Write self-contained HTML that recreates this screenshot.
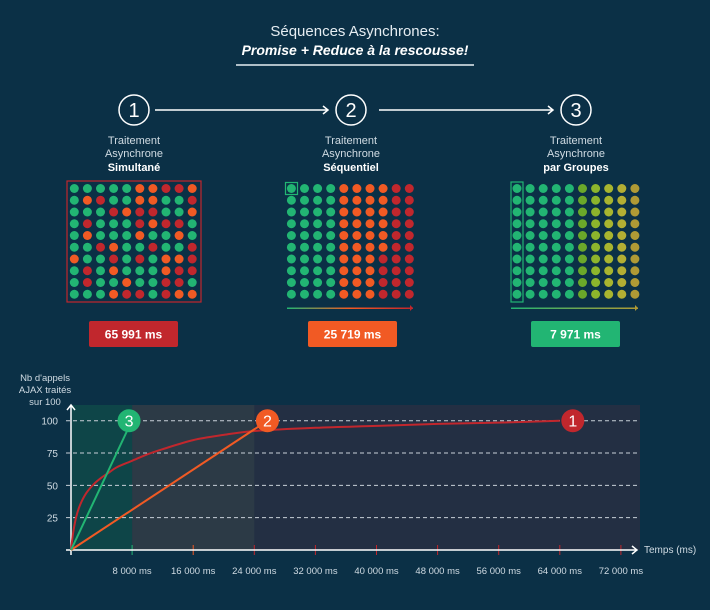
<!DOCTYPE html>
<html><head><meta charset="utf-8"><style>
html,body{margin:0;padding:0;background:#0b3046;}
svg{display:block;font-family:"Liberation Sans",sans-serif;}
</style></head><body>
<svg id="s" width="710" height="610" viewBox="0 0 710 610">
<rect width="710" height="610" fill="#0b3046"/>
<text x="355" y="36" text-anchor="middle" fill="#e6edf2" font-size="15">Séquences Asynchrones:</text>
<text x="355" y="55" text-anchor="middle" fill="#fff" font-size="14" font-weight="bold" font-style="italic">Promise + Reduce à la rescousse!</text>
<line x1="236" y1="65" x2="474" y2="65" stroke="#e6edf2" stroke-width="1.5"/>
<g stroke="#fff" stroke-width="1.5" fill="none">
<circle cx="134" cy="110" r="15"/>
<circle cx="351" cy="110" r="15"/>
<circle cx="576" cy="110" r="15"/>
<path d="M155 110H328M323 106l5 4-5 4"/>
<path d="M379 110H553M548 106l5 4-5 4"/>
</g>
<g fill="#fff" font-size="20" text-anchor="middle">
<text x="134" y="117">1</text>
<text x="351" y="117">2</text>
<text x="576" y="117">3</text>
</g>
<g fill="#d0dbe3" font-size="11" text-anchor="middle">
<text x="134" y="144">Traitement</text><text x="134" y="157">Asynchrone</text><text x="134" y="171" fill="#fff" font-weight="bold">Simultané</text>
<text x="351" y="144">Traitement</text><text x="351" y="157">Asynchrone</text><text x="351" y="171" fill="#fff" font-weight="bold">Séquentiel</text>
<text x="576" y="144">Traitement</text><text x="576" y="157">Asynchrone</text><text x="576" y="171" fill="#fff" font-weight="bold">par Groupes</text>
</g>
<g id="grids"></g>
<rect x="67" y="181" width="134" height="121" fill="none" stroke="#c1272d" stroke-width="1.2"/>
<rect x="285.5" y="182.5" width="12" height="12" fill="none" stroke="#22b573" stroke-width="1.2"/>
<rect x="511" y="182" width="12" height="120" fill="none" stroke="#22b573" stroke-width="1.2"/>
<defs>
<linearGradient id="g2" x1="0" x2="1"><stop offset="0" stop-color="#22b573"/><stop offset="0.5" stop-color="#f15a24"/><stop offset="1" stop-color="#c1272d"/></linearGradient>
<linearGradient id="g3" x1="0" x2="1"><stop offset="0" stop-color="#22b573"/><stop offset="1" stop-color="#b09a35"/></linearGradient>
</defs>
<rect x="287" y="307.5" width="126" height="1.5" fill="url(#g2)"/>
<path d="M410 305l3 3-3 3z" fill="#c1272d"/>
<rect x="511" y="307.5" width="127" height="1.5" fill="url(#g3)"/>
<path d="M635 305l3 3-3 3z" fill="#b09a35"/>
<g font-size="12" font-weight="bold" fill="#fff" text-anchor="middle">
<rect x="89" y="321" width="89" height="26" rx="2" fill="#c1272d"/>
<text x="133.5" y="338.5">65 991 ms</text>
<rect x="308" y="321" width="89" height="26" rx="2" fill="#f15a24"/>
<text x="352.5" y="338.5">25 719 ms</text>
<rect x="531" y="321" width="89" height="26" rx="2" fill="#22b573"/>
<text x="575.5" y="338.5">7 971 ms</text>
</g>
<g id="chart"></g>
</svg>
<script>
const NS="http://www.w3.org/2000/svg";
function mk(p,t,a){const e=document.createElementNS(NS,t);for(const k in a)e.setAttribute(k,a[k]);p.appendChild(e);return e;}
const C={G:"#22b573",O:"#f15a24",R:"#c1272d"};
const grid1=["GGGGGOORRO","GORGGOOGGR","GGGRORRGGO","GRGGGRORRG","GOGGGOGGOG","GGROGGRGGR","OGGRGRGOOR","GRGOGGGORR","GRGGOGGRRG","GGGORRGROO"];
const grid2=["GGGGOOOORR","GGGGOOOORR","GGGGOOOORR","GGGGOOOORR","GGGGOOOORR","GGGGOOOORR","GGGGOOORRR","GGGGOOORRR","GGGGOOORRR","GGGGOOORRR"];
const grid3Cols=["#22b573","#22b573","#22b573","#22b573","#22b573","#6ba82a","#8db52c","#a8b52f","#b3ae33","#b09a35"];
const grids=document.getElementById("grids");
function drawGrid(x0,colorFn,name){for(let r=0;r<10;r++)for(let c=0;c<10;c++){const d=mk(grids,"circle",{cx:x0+c*13.1,cy:188.5+r*11.75,r:4.5,fill:colorFn(r,c)});

}}
drawGrid(74.3,(r,c)=>C[grid1[r][c]],"grid-1");
drawGrid(291.4,(r,c)=>C[grid2[r][c]],"grid-2");
drawGrid(517,(r,c)=>grid3Cols[c],"grid-3");

// chart data
const xTicks=[8000,16000,24000,32000,40000,48000,56000,64000,72000];
const yTicks=[25,50,75,100];
const redT=[0,300,700,1200,2000,3000,4000,5000,6000,8000,10000,12000,16000,20000,24000,32000,40000,48000,56000,64000];
const redV=[0,14,26,35,44,51,56,60,64,69,74,78,85,89,92,94.5,96,97.5,98.5,100];
const seqT=[0,25719];const seqV=[0,100];
const grpT=[0,7971];const grpV=[0,100];
const markers=[{t:64000,v:100,label:"1",color:"#c1272d"},{t:25719,v:100,label:"2",color:"#f15a24"},{t:7600,v:100,label:"3",color:"#22b573"}];
const X0=71,XS=61.1/8000,Y0=550,YS=(550-420.7)/100;
const X=t=>X0+t*XS, Y=v=>Y0-v*YS;
const ch=document.getElementById("chart");
let e;
e=mk(ch,"rect",{x:X0,y:405,width:640-X0,height:Y0-405,fill:"#232f43"});

e=mk(ch,"rect",{x:X(8000),y:405,width:X(24000)-X(8000),height:Y0-405,fill:"#2c3a46"});

e=mk(ch,"rect",{x:X0,y:405,width:X(8000)-X0,height:Y0-405,fill:"#0e4548"});

yTicks.forEach(v=>{
 e=mk(ch,"line",{x1:66,x2:640,y1:Y(v),y2:Y(v),stroke:"#c8d0d8","stroke-width":1,"stroke-dasharray":"4 3"});
 
 e=mk(ch,"text",{x:58,y:Y(v)+4,"text-anchor":"end",fill:"#d0dbe3","font-size":10});e.textContent=v;
 
});
xTicks.forEach((t,i)=>{
 const col=i===0?"#22b573":(i===1?"#f15a24":"#c1272d");
 e=mk(ch,"line",{x1:X(t),x2:X(t),y1:Y0-5,y2:Y0+5,stroke:col,"stroke-width":1});
 
 e=mk(ch,"text",{x:X(t),y:574,"text-anchor":"middle",fill:"#d0dbe3","font-size":9.5});
 e.textContent=String(t).replace(/(\d+)(\d{3})$/,"$1 $2")+" ms";
 
});
e=mk(ch,"path",{d:`M${X0} 555V406M${X0-4} 410l4-5 4 5M66 ${Y0}H636M632 ${Y0-4}l5 4-5 4`,stroke:"#fff","stroke-width":1.5,fill:"none"});

e=mk(ch,"text",{x:644,y:553,fill:"#d0dbe3","font-size":10});e.textContent="Temps (ms)";

["Nb d'appels","AJAX traités","sur 100"].forEach((s,i)=>{e=mk(ch,"text",{x:45,y:381+i*12,"text-anchor":"middle",fill:"#d0dbe3","font-size":9.5});e.textContent=s;
});
function smooth(T,V){const p=T.map((t,i)=>[X(t),Y(V[i])]);let d=`M${p[0][0]},${p[0][1]}`;
for(let i=0;i<p.length-1;i++){const p0=p[Math.max(0,i-1)],p1=p[i],p2=p[i+1],p3=p[Math.min(p.length-1,i+2)];
d+=` C${p1[0]+(p2[0]-p0[0])/6},${p1[1]+(p2[1]-p0[1])/6} ${p2[0]-(p3[0]-p1[0])/6},${p2[1]-(p3[1]-p1[1])/6} ${p2[0]},${p2[1]}`;}return d;}
e=mk(ch,"path",{d:smooth(redT,redV),fill:"none",stroke:"#c1272d","stroke-width":2});

function line(T,V,col,name){e=mk(ch,"polyline",{points:T.map((t,i)=>X(t)+","+Y(V[i])).join(" "),fill:"none",stroke:col,"stroke-width":2});
}
line(seqT,seqV,"#f15a24","series-sequentiel");
line(grpT,grpV,"#22b573","series-groupes");
markers.forEach(m=>{
 const cx=X(m.t)+(m.label==="1"?13:0);
 e=mk(ch,"circle",{cx:cx,cy:Y(m.v),r:11.5,fill:m.color});
 
 e=mk(ch,"text",{x:cx,y:Y(m.v)+6,"text-anchor":"middle",fill:"#fff","font-size":16});e.textContent=m.label;
 
});
</script>
</body></html>
